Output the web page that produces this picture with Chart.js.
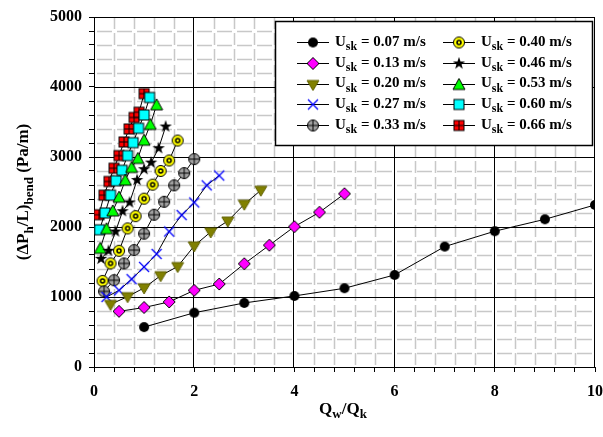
<!DOCTYPE html>
<html>
<head>
<meta charset="utf-8">
<script src="https://cdn.jsdelivr.net/npm/chart.js@4"></script>
<style>
  body { margin: 0; background: #fff; }
  canvas { display: block; }
</style>
</head>
<body>
<canvas id="bendChart" width="603" height="437"></canvas>
<script>
// values
const seriesLabels = ['0.07', '0.13', '0.20', '0.27', '0.33', '0.40', '0.46', '0.53', '0.60', '0.66'];

const x007 = [1, 2, 3, 4, 5, 6, 7, 8, 9, 10];
const y007 = [570, 775, 915, 1015, 1125, 1315, 1720, 1940, 2110, 2315];
const x013 = [0.5, 1, 1.5, 2, 2.5, 3, 3.5, 4, 4.5, 5];
const y013 = [795, 850, 930, 1095, 1185, 1475, 1740, 2005, 2210, 2475];
const x020 = [0.33, 0.67, 1, 1.33, 1.67, 2, 2.33, 2.67, 3, 3.33];
const y020 = [895, 1005, 1130, 1305, 1435, 1730, 1930, 2085, 2325, 2525];
const x027 = [0.25, 0.5, 0.75, 1, 1.25, 1.5, 1.75, 2, 2.25, 2.5];
const y027 = [1000, 1095, 1255, 1430, 1615, 1935, 2170, 2350, 2595, 2735];
const x033 = [0.2, 0.4, 0.6, 0.8, 1, 1.2, 1.4, 1.6, 1.8, 2];
const y033 = [1080, 1240, 1480, 1670, 1905, 2175, 2360, 2595, 2770, 2970];
const x040 = [0.17, 0.33, 0.5, 0.67, 0.83, 1, 1.17, 1.33, 1.5, 1.67];
const y040 = [1230, 1480, 1660, 1980, 2155, 2405, 2605, 2800, 2950, 3235];
const x046 = [0.14, 0.29, 0.43, 0.57, 0.71, 0.86, 1, 1.14, 1.29, 1.43];
const y046 = [1545, 1660, 1935, 2225, 2350, 2670, 2825, 2920, 3125, 3435];
const x053 = [0.125, 0.25, 0.375, 0.5, 0.625, 0.75, 0.875, 1, 1.125, 1.25];
const y053 = [1695, 1975, 2230, 2425, 2670, 2850, 2980, 3240, 3465, 3745];
const x060 = [0.11, 0.22, 0.33, 0.44, 0.56, 0.67, 0.78, 0.89, 1, 1.11];
const y060 = [1960, 2200, 2455, 2660, 2810, 3020, 3205, 3410, 3600, 3850];
const x066 = [0.1, 0.2, 0.3, 0.4, 0.5, 0.6, 0.7, 0.8, 0.9, 1];
const y066 = [2175, 2455, 2650, 2840, 3020, 3215, 3400, 3565, 3640, 3905];

const xLabels = [0, 2, 4, 6, 8, 10];
const yLabels = [0, 1000, 2000, 3000, 4000, 5000];

const xs = [x007, x013, x020, x027, x033, x040, x046, x053, x060, x066];
const ys = [y007, y013, y020, y027, y033, y040, y046, y053, y060, y066];

const SERIF = '"Liberation Serif", "Times New Roman", serif';

// marker images
function marker(draw) {
  const c = document.createElement('canvas');
  c.width = 14; c.height = 14;
  const g = c.getContext('2d');
  g.translate(7, 7);
  g.lineWidth = 1;
  g.strokeStyle = '#000';
  draw(g);
  return c;
}

const markers = [
  marker(g => { g.beginPath(); g.arc(0, 0, 5, 0, Math.PI * 2); g.fillStyle = '#000'; g.fill(); }),
  marker(g => {
    g.beginPath(); g.moveTo(0, -6); g.lineTo(6, 0); g.lineTo(0, 6); g.lineTo(-6, 0); g.closePath();
    g.fillStyle = '#ff00ff'; g.fill(); g.stroke();
  }),
  marker(g => {
    g.beginPath(); g.moveTo(-6, -4); g.lineTo(6, -4); g.lineTo(0, 6); g.closePath();
    g.fillStyle = '#808000'; g.fill(); g.strokeStyle = '#5f5f00'; g.stroke();
  }),
  marker(g => {
    g.strokeStyle = '#0000ff'; g.lineWidth = 1.3;
    g.beginPath(); g.moveTo(-5, -5); g.lineTo(5, 5); g.moveTo(5, -5); g.lineTo(-5, 5); g.stroke();
  }),
  marker(g => {
    g.beginPath(); g.arc(0, 0, 5.5, 0, Math.PI * 2); g.fillStyle = '#a0a0a0'; g.fill(); g.stroke();
    g.beginPath(); g.moveTo(-5.5, 0); g.lineTo(5.5, 0); g.moveTo(0, -5.5); g.lineTo(0, 5.5); g.stroke();
  }),
  marker(g => {
    g.beginPath(); g.arc(0, 0, 5.5, 0, Math.PI * 2); g.fillStyle = '#ffff00'; g.fill(); g.stroke();
    g.beginPath(); g.arc(0, 0, 2, 0, Math.PI * 2); g.lineWidth = 1.5; g.stroke();
  }),
  marker(g => {
    g.beginPath();
    for (let i = 0; i < 10; i++) {
      const r = i % 2 ? 2.6 : 6.5;
      const a = -Math.PI / 2 + i * Math.PI / 5;
      g.lineTo(r * Math.cos(a), r * Math.sin(a));
    }
    g.closePath(); g.fillStyle = '#000'; g.fill();
  }),
  marker(g => {
    g.beginPath(); g.moveTo(0, -6); g.lineTo(6, 5); g.lineTo(-6, 5); g.closePath();
    g.fillStyle = '#00ff00'; g.fill(); g.stroke();
  }),
  marker(g => { g.fillStyle = '#00ffff'; g.fillRect(-5, -5, 10, 10); g.strokeRect(-5, -5, 10, 10); }),
  marker(g => {
    g.fillStyle = '#ff0000'; g.fillRect(-5, -5, 10, 10); g.strokeRect(-5, -5, 10, 10);
    g.beginPath(); g.moveTo(-5, 0); g.lineTo(5, 0); g.moveTo(0, -5); g.lineTo(0, 5); g.stroke();
  })
];

const datasets = xs.map((xv, i) => ({
  label: 'Usk = ' + seriesLabels[i] + ' m/s',
  data: xv.map((x, j) => ({ x: x, y: ys[i][j] })),
  borderColor: '#000',
  borderWidth: 1,
  pointStyle: markers[i],
  pointRadius: 6,
  showLine: true,
  fill: false,
  tension: 0
}));

// text with subscripts; parts: [text, isSub]
function richWidth(ctx, parts, size, subSize) {
  let w = 0;
  for (const [t, sub] of parts) {
    ctx.font = 'bold ' + (sub ? subSize : size) + 'px ' + SERIF;
    w += ctx.measureText(t).width;
  }
  return w;
}
function drawRich(ctx, parts, x, y, size, subSize, subShift) {
  ctx.textAlign = 'left';
  ctx.textBaseline = 'middle';
  for (const [t, sub] of parts) {
    ctx.font = 'bold ' + (sub ? subSize : size) + 'px ' + SERIF;
    ctx.fillText(t, x, sub ? y + subShift : y);
    x += ctx.measureText(t).width;
  }
}

const gridPlugin = {
  id: 'bendGrid',
  beforeDatasetsDraw(chart) {
    const { ctx, chartArea: a, scales } = chart;
    ctx.save();
    ctx.strokeStyle = '#c8c8c8';
    ctx.lineWidth = 1.5;
    ctx.setLineDash([12, 4]);
    for (let k = 1; k < 25; k++) {
      if (k % 5 === 0) continue;
      const px = Math.round(scales.x.getPixelForValue(k * 0.4)) + 0.5;
      ctx.lineDashOffset = -2;
      ctx.beginPath(); ctx.moveTo(px, a.bottom); ctx.lineTo(px, a.top); ctx.stroke();
    }
    ctx.setLineDash([15, 5]);
    for (let k = 1; k < 25; k++) {
      if (k % 5 === 0) continue;
      const py = Math.round(scales.y.getPixelForValue(k * 200)) + 0.5;
      ctx.lineDashOffset = -3;
      ctx.beginPath(); ctx.moveTo(a.left, py); ctx.lineTo(a.right, py); ctx.stroke();
    }
    ctx.setLineDash([]);
    ctx.strokeStyle = '#000';
    ctx.lineWidth = 1;
    for (const v of xLabels) {
      if (v === 0) continue;
      const px = Math.round(scales.x.getPixelForValue(v)) - 0.5;
      ctx.beginPath(); ctx.moveTo(px, a.bottom); ctx.lineTo(px, a.top); ctx.stroke();
    }
    for (const v of yLabels) {
      if (v === 0) continue;
      const py = Math.round(scales.y.getPixelForValue(v)) + 0.5;
      ctx.beginPath(); ctx.moveTo(a.left, py); ctx.lineTo(a.right, py); ctx.stroke();
    }
    ctx.restore();
  },
  afterDraw(chart) {
    const { ctx, chartArea: a } = chart;
    ctx.save();
    ctx.fillStyle = '#000';

    // y axis title
    const yParts = [['(\u0394P', false], ['h', true], ['/L)', false], ['bend', true], [' (Pa/m)', false]];
    ctx.translate(24, (a.top + a.bottom) / 2);
    ctx.rotate(-Math.PI / 2);
    const yw = richWidth(ctx, yParts, 17, 13);
    drawRich(ctx, yParts, -yw / 2, 0, 17, 13, 6);
    ctx.setTransform(1, 0, 0, 1, 0, 0);

    // x axis title
    const xParts = [['Q', false], ['w', true], ['/Q', false], ['k', true]];
    const xw = richWidth(ctx, xParts, 17, 13);
    drawRich(ctx, xParts, 343 - xw / 2, 410, 17, 13, 5);

    // legend box
    const bx = 275, by = 21, bw = 317, bh = 124;
    ctx.fillStyle = '#fff';
    ctx.fillRect(bx, by, bw, bh);
    ctx.strokeStyle = '#000';
    ctx.lineWidth = 1.5;
    ctx.strokeRect(bx + 0.5, by + 0.5, bw, bh);
    ctx.lineWidth = 1;
    for (let i = 0; i < seriesLabels.length; i++) {
      const col = i < 5 ? 0 : 1;
      const row = i % 5;
      const mx = col ? 459 : 313;
      const my = 42 + row * 20.8;
      ctx.strokeStyle = '#000';
      ctx.beginPath(); ctx.moveTo(mx - 16, Math.round(my) + 0.5); ctx.lineTo(mx + 16, Math.round(my) + 0.5); ctx.stroke();
      ctx.drawImage(markers[i], mx - 7, Math.round(my) - 6.5);
      ctx.fillStyle = '#000';
      drawRich(ctx, [['U', false], ['sk', true], [' = ' + seriesLabels[i] + ' m/s', false]], mx + 22, my, 15, 12, 5);
    }
    ctx.restore();
  }
};

const ctx = document.getElementById('bendChart').getContext('2d');
new Chart(ctx, {
  type: 'scatter',
  data: { datasets: datasets },
  plugins: [gridPlugin],
  options: {
    responsive: false,
    animation: false,
    layout: { padding: { top: 17, right: 8, left: 0, bottom: 0 } },
    plugins: { legend: { display: false }, tooltip: { enabled: false } },
    scales: {
      x: {
        type: 'linear',
        min: 0, max: 10,
        afterFit: s => { s.height = 70; s.paddingLeft = 0; s.paddingRight = 0; },
        border: { color: '#000', width: 1 },
        grid: { display: true, drawOnChartArea: false, drawTicks: true, tickLength: 5, color: '#000' },
        ticks: {
          stepSize: 0.4,
          autoSkip: false,
          maxRotation: 0,
          padding: 10,
          color: '#000',
          font: { family: SERIF, size: 16, weight: 'bold' },
          callback: v => xLabels.some(l => Math.abs(l - v) < 1e-6) ? String(Math.round(v)) : ''
        }
      },
      y: {
        type: 'linear',
        min: 0, max: 5000,
        afterFit: s => { s.width = 94; s.paddingTop = 0; s.paddingBottom = 0; },
        border: { color: '#000', width: 1 },
        grid: { display: true, drawOnChartArea: false, drawTicks: true, tickLength: 5, color: '#000' },
        ticks: {
          stepSize: 200,
          autoSkip: false,
          padding: 7,
          color: '#000',
          font: { family: SERIF, size: 16, weight: 'bold' },
          callback: v => yLabels.includes(v) ? String(v) : ''
        }
      }
    }
  }
});
</script>
</body>
</html>
